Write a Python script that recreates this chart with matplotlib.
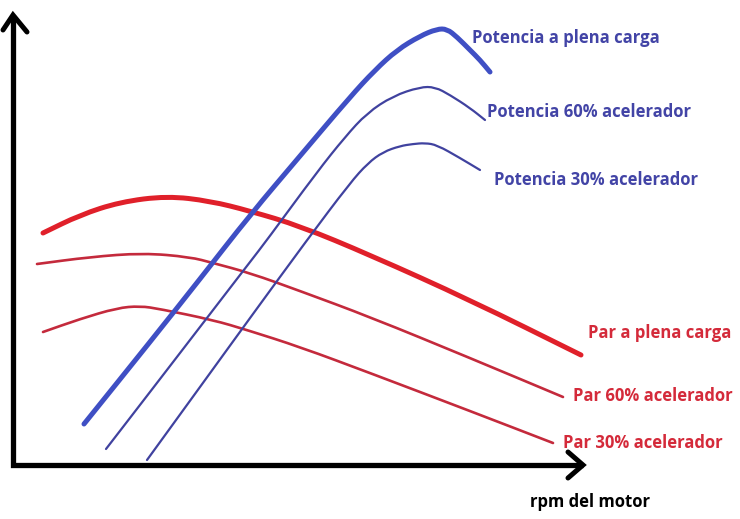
import matplotlib
matplotlib.use("Agg")
import matplotlib.pyplot as plt
from matplotlib.path import Path
from matplotlib.patches import PathPatch

# Curves: x = engine speed (arbitrary units), y = value (arbitrary units)
pot_plena_x = [71, 137, 187, 237, 287, 337, 362, 384, 407, 424, 434, 444, 457, 467, 477]
pot_plena_y = [41, 123, 186, 250, 309, 368, 395, 415, 429, 436, 436, 428, 415, 405, 393]

pot_60_x = [93, 137, 187, 237, 254, 304, 332, 354, 380, 407, 422, 437, 457, 472]
pot_60_y = [16, 73, 138, 203, 225, 293, 328, 352, 369, 378, 378, 370, 357, 345]

pot_30_x = [134, 187, 237, 294, 337, 355, 370, 387, 400, 412, 424, 447, 467]
pot_30_y = [5, 78, 147, 225, 282, 302, 313, 319, 321, 322, 320, 307, 295]

par_plena_x = [30, 67, 107, 154, 197, 237, 287, 357, 457, 568]
par_plena_y = [232, 250, 263, 269, 264, 254, 239, 210, 165, 110]

par_60_x = [24, 77, 130, 177, 200, 237, 287, 357, 457, 550]
par_60_y = [201, 208, 212, 208, 202, 192, 174, 148, 107, 68]

par_30_x = [30, 67, 104, 127, 147, 200, 234, 287, 357, 457, 540]
par_30_y = [133, 146, 157, 159, 156, 145, 135, 118, 92, 54, 22]

labels = ["Potencia a plena carga", "Potencia 60% acelerador", "Potencia 30% acelerador",
          "Par a plena carga", "Par 60% acelerador", "Par 30% acelerador"]
x_label = "rpm del motor"

BLUE_THICK = "#3f4fc4"
BLUE_THIN = "#40429f"
RED_THICK = "#e0202a"
RED_THIN = "#c42a3c"
BLUE_TEXT = "#4244a6"
RED_TEXT = "#d42a3a"

fig = plt.figure(figsize=(7.40, 5.19), dpi=100)
ax = fig.add_axes([0, 0, 1, 1])
ax.set_xlim(-13, 727)
ax.set_ylim(-54, 465)
ax.axis("off")


def smooth_curve(xs, ys, color, lw):
    pts = list(zip(xs, ys))
    verts = [pts[0]]
    codes = [Path.MOVETO]
    mid = lambda a, b: ((a[0] + b[0]) / 2, (a[1] + b[1]) / 2)
    verts.append(mid(pts[0], pts[1]))
    codes.append(Path.LINETO)
    for i in range(1, len(pts) - 1):
        verts += [pts[i], mid(pts[i], pts[i + 1])]
        codes += [Path.CURVE3, Path.CURVE3]
    verts.append(pts[-1])
    codes.append(Path.LINETO)
    patch = PathPatch(Path(verts, codes), facecolor="none", edgecolor=color, lw=lw,
                      capstyle="round", joinstyle="round")
    ax.add_patch(patch)


smooth_curve(par_plena_x, par_plena_y, RED_THICK, 3.6)
smooth_curve(par_60_x, par_60_y, RED_THIN, 1.9)
smooth_curve(par_30_x, par_30_y, RED_THIN, 1.9)
smooth_curve(pot_plena_x, pot_plena_y, BLUE_THICK, 3.6)
smooth_curve(pot_60_x, pot_60_y, BLUE_THIN, 1.6)
smooth_curve(pot_30_x, pot_30_y, BLUE_THIN, 1.6)

# axes with arrows
ax.plot([0, 0, 570], [448, 0, 0], color="black", lw=3.8, solid_capstyle="butt", solid_joinstyle="miter")
ax.plot([-10, 0, 14], [435, 450, 433], color="black", lw=3.6, solid_capstyle="round", solid_joinstyle="miter")
ax.plot([555, 570, 555], [13, 0, -13], color="black", lw=3.6, solid_capstyle="round", solid_joinstyle="miter")

tkw = dict(fontsize=12, fontweight="bold", family="Open Sans", va="center", ha="left")
ax.text(459, 427, labels[0], color=BLUE_TEXT, **tkw)
ax.text(474, 353, labels[1], color=BLUE_TEXT, **tkw)
ax.text(481, 285, labels[2], color=BLUE_TEXT, **tkw)
ax.text(575, 132, labels[3], color=RED_TEXT, **tkw)
ax.text(560, 69, labels[4], color=RED_TEXT, **tkw)
ax.text(550, 22, labels[5], color=RED_TEXT, **tkw)
ax.text(517, -37, x_label, color="black", **tkw)

fig.savefig("out.png", dpi=100)
